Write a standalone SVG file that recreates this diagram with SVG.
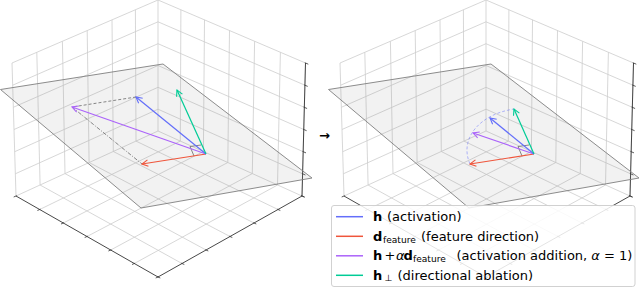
<svg xmlns="http://www.w3.org/2000/svg" xmlns:xlink="http://www.w3.org/1999/xlink" width="640" height="289" viewBox="0 0 640 289">
<style>
.grid{fill:none;stroke:#cdcdcd;stroke-width:0.8}
.axis{fill:none;stroke:#333;stroke-width:0.9}
.tick{fill:none;stroke:#333;stroke-width:0.8}
.plane{fill:#808080;fill-opacity:0.1;stroke:#7f7f7f;stroke-width:0.9;stroke-linejoin:round}
.vec{fill:none;stroke-width:1.2}
.guide{fill:none;stroke:#6a6a6a;stroke-width:0.8}
.lg{font-family:"DejaVu Sans",sans-serif;font-size:13px;fill:#000}
.b{font-weight:bold}
.sub{font-size:9.1px}
</style>
<defs>
<marker id="mb" viewBox="-7 -4 8 8" refX="0" refY="0" markerWidth="8" markerHeight="8" orient="auto" markerUnits="userSpaceOnUse"><path d="M-6,-3.2 L0,0 L-6,3.2" fill="none" stroke="#636EFA" stroke-width="1.1"/></marker>
<marker id="mr" viewBox="-7 -4 8 8" refX="0" refY="0" markerWidth="8" markerHeight="8" orient="auto" markerUnits="userSpaceOnUse"><path d="M-6,-3.2 L0,0 L-6,3.2" fill="none" stroke="#EF553B" stroke-width="1.1"/></marker>
<marker id="mp" viewBox="-7 -4 8 8" refX="0" refY="0" markerWidth="8" markerHeight="8" orient="auto" markerUnits="userSpaceOnUse"><path d="M-6,-3.2 L0,0 L-6,3.2" fill="none" stroke="#AB63FA" stroke-width="1.1"/></marker>
<marker id="mg" viewBox="-7 -4 8 8" refX="0" refY="0" markerWidth="8" markerHeight="8" orient="auto" markerUnits="userSpaceOnUse"><path d="M-6,-3.2 L0,0 L-6,3.2" fill="none" stroke="#00CC96" stroke-width="1.1"/></marker>
<g id="box">
<path class="grid" d="M158,0 L158,131 M135.4,9.8 L136,141.1 M112,19.9 L113.3,151.5 M87.2,30.6 L89.1,162.5 M62.4,41.3 L65,173.6 M36.8,52.3 L40.1,185 M12,63 L16,196
M158,0 L12,63 M158,21.8 L12.7,85.2 M158,43.7 L13.3,107.3 M158,65.5 L14,129.5 M158,87.3 L14.7,151.7 M158,109.2 L15.3,173.8 M158,131 L16,196
M180.9,9.8 L180.3,141.1 M204.5,19.8 L203.4,151.5 M229.5,30.6 L227.8,162.5 M254.6,41.3 L252.3,173.6 M280.4,52.3 L277.5,185 M305.5,63 L302,196
M158,0 L305.5,63 M158,21.8 L304.9,85.2 M158,43.7 L304.3,107.3 M158,65.5 L303.8,129.5 M158,87.3 L303.2,151.7 M158,109.2 L302.6,173.8 M158,131 L302,196
M136,141.1 L278,209.5 M113.3,151.5 L254,223 M89.1,162.5 L230,236.5 M65,173.6 L206,250 M40.1,185 L182,263.5
M180.3,141.1 L39.7,209.5 M203.4,151.5 L63.3,223 M227.8,162.5 L87,236.5 M252.3,173.6 L110.7,250 M277.5,185 L134.3,263.5"/>
<path class="axis" d="M16,196 L158,277 L302,196 L305.5,63"/>
<path class="tick" d="M16.7,195.7 L13.7,197 M40.4,209.2 L37.4,210.5 M64,222.7 L61,224 M87.7,236.2 L84.7,237.5 M111.4,249.7 L108.4,251 M135,263.2 L132,264.5 M158.7,276.7 L155.7,278
M157.3,276.7 L160.3,278 M181.3,263.2 L184.3,264.5 M205.3,249.7 L208.3,251 M229.3,236.2 L232.3,237.5 M253.3,222.7 L256.3,224 M277.3,209.2 L280.3,210.5 M301.3,195.7 L304.3,197
M304.8,62.7 L308.3,64.2 M304.2,84.9 L307.7,86.4 M303.6,107 L307.1,108.5 M303.1,129.2 L306.6,130.7 M302.5,151.4 L306,152.9 M301.9,173.5 L305.4,175 M301.3,195.7 L304.8,197.2"/>
</g>
</defs>

<g id="left-panel">
<use href="#box" xlink:href="#box"/>
<polygon id="left-plane" class="plane" points="0.5,89.5 163,64 312,178 141,208"/>
<g id="left-vectors">
<path class="guide" d="M136,97 L72,107" stroke-dasharray="3,2"/>
<path class="guide" d="M72,107 L142,164" stroke-dasharray="4,1.5,1,1.5"/>
<polyline class="guide" points="194,156 190,146.5 201,145"/>
<line class="vec" x1="206" y1="154" x2="142" y2="164" stroke="#EF553B" marker-end="url(#mr)"/>
<line class="vec" x1="206" y1="154" x2="72" y2="107" stroke="#AB63FA" marker-end="url(#mp)"/>
<line class="vec" x1="206" y1="154" x2="136" y2="97" stroke="#636EFA" marker-end="url(#mb)"/>
<line class="vec" x1="206" y1="154" x2="177" y2="90" stroke="#00CC96" marker-end="url(#mg)"/>
</g>
</g>

<text id="between-arrow" x="319" y="140" font-family="DejaVu Sans, sans-serif" font-size="13" font-weight="bold" fill="#000">→</text>

<g id="right-panel">
<use href="#box" xlink:href="#box" transform="translate(328,0)"/>
<polygon id="right-plane" class="plane" points="328.5,89.5 491,64 639,178 469,208"/>
<g id="right-vectors">
<path d="M470,164 C459,139.2 478.7,114.5 514,109" fill="none" stroke="#636EFA" stroke-opacity="0.55" stroke-width="0.9" stroke-dasharray="3,2"/>
<polyline class="guide" points="522,156 518,146.5 529,145"/>
<line class="vec" x1="534" y1="154" x2="470" y2="164" stroke="#EF553B" marker-end="url(#mr)"/>
<line class="vec" x1="534" y1="154" x2="473" y2="133" stroke="#AB63FA" marker-end="url(#mp)"/>
<line class="vec" x1="534" y1="154" x2="490" y2="118" stroke="#636EFA" marker-end="url(#mb)"/>
<line class="vec" x1="534" y1="154" x2="514" y2="109" stroke="#00CC96" marker-end="url(#mg)"/>
</g>
</g>

<g id="legend">
<rect x="331.5" y="205.5" width="303.5" height="81" rx="2.5" fill="#fff" fill-opacity="0.85" stroke="#cccccc" stroke-width="0.9"/>
<line x1="336" y1="216.7" x2="363" y2="216.7" stroke="#636EFA" stroke-width="1.5"/>
<line x1="336" y1="236.3" x2="363" y2="236.3" stroke="#EF553B" stroke-width="1.5"/>
<line x1="336" y1="255.8" x2="363" y2="255.8" stroke="#AB63FA" stroke-width="1.5"/>
<line x1="336" y1="275.3" x2="363" y2="275.3" stroke="#00CC96" stroke-width="1.5"/>
<text class="lg" y="221"><tspan x="373" class="b">h</tspan><tspan x="387">(activation)</tspan></text>
<text class="lg" y="240.6"><tspan x="373" class="b">d</tspan><tspan x="383" y="242.6" class="sub">feature</tspan><tspan x="421" y="240.6">(feature direction)</tspan></text>
<text class="lg" y="260.1"><tspan x="373" class="b">h</tspan><tspan x="384.5">+</tspan><tspan x="396" font-style="italic">α</tspan><tspan x="403.5" class="b">d</tspan><tspan x="413" y="262.1" class="sub">feature</tspan><tspan x="456.5" y="260.1">(activation addition, <tspan font-style="italic">α</tspan> = 1)</tspan></text>
<text class="lg" y="279.6"><tspan x="373" class="b">h</tspan><tspan x="384.5" y="281.4" class="sub">⊥</tspan><tspan x="397.5" y="279.6">(directional ablation)</tspan></text>
</g>
</svg>
